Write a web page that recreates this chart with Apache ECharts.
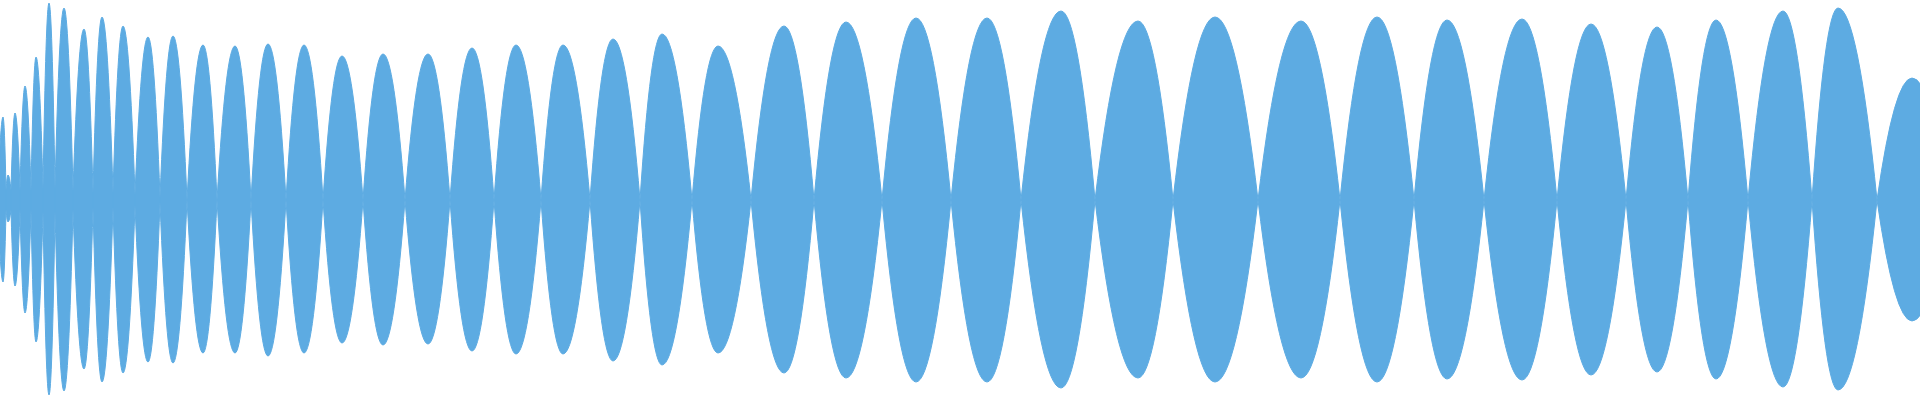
<!DOCTYPE html>
<html>
<head>
<meta charset="utf-8">
<script src="https://cdn.jsdelivr.net/npm/echarts@6/dist/echarts.min.js"></script>
<style>
html,body{margin:0;padding:0;background:#fff;}
#chart{width:1920px;height:400px;}
</style>
</head>
<body>
<div id="chart"></div>
<script>
// Waveform envelope: nodes (where the envelope pinches),
// lobe peaks and their upper / lower amplitudes.
const nodeX = [-1,6,11,20,31,43,55,73,93,113,135,160,187,217,251,286,323,363,405,450,494,
  541,590,640,692,751,814,882,951,1021,1095,1173,1258,1340,1414,1484,1557,1626,1688,1748,1812,1877,1950];
const nodeLevel = [30,10,10,10,10,12,12,10,8,8,6,3,
  0,0,0,0,0,0,0,0,0,0,0,0,0,0,0,0,0,0,0,0,0,0,0,0,0,0,0,0,0,0,0];
const peakX = [3,8,15,25,36,49,64,84,102,123,148,
  173,203,235,268,304,342,383,428,472,516,563,613,662,718,784,846,916,987,1061,
  1138,1215,1301,1377,1447,1522,1591,1657,1716,1783,1838,1912];
const peakTop = [83,25,87,114,143,197,192,171,183,174,163,
  164,155,154,156,155,144,146,146,152,155,155,161,166,154,174,178,182,182,189,
  179,183,179,183,180,181,176,173,180,189,192,122];
const peakBottom = [82,22,86,113,142,195,191,169,182,173,162,
  163,153,153,156,153,143,145,144,151,154,154,161,165,153,173,178,182,182,188,
  178,182,178,182,179,180,175,172,179,187,190,121];

const color = '#5DABE2';

const lobes = peakX.map((px, i) => [
  nodeX[i], px, nodeX[i + 1], peakTop[i], -peakBottom[i], nodeLevel[i], nodeLevel[i + 1]
]);

function renderLobe(params, api) {
  const x0 = api.value(0), xp = api.value(1), x1 = api.value(2);
  const top = api.value(3), bot = api.value(4), b0 = api.value(5), b1 = api.value(6);
  const P = (x, y) => api.coord([x, y]);
  const pts = [
    P(x0, b0), P((x0 + xp) / 2, top), P(xp, top), P((xp + x1) / 2, top), P(x1, b1),
    P(x1, -b1), P((xp + x1) / 2, bot), P(xp, bot), P((x0 + xp) / 2, bot), P(x0, -b0)
  ];
  const f = p => p[0].toFixed(2) + ' ' + p[1].toFixed(2);
  const d = 'M' + f(pts[0]) +
    ' Q' + f(pts[1]) + ' ' + f(pts[2]) +
    ' Q' + f(pts[3]) + ' ' + f(pts[4]) +
    ' L' + f(pts[5]) +
    ' Q' + f(pts[6]) + ' ' + f(pts[7]) +
    ' Q' + f(pts[8]) + ' ' + f(pts[9]) + ' Z';
  return {
    type: 'path',
    shape: {pathData: d},
    style: {fill: color, stroke: color, lineWidth: 1}
  };
}

const chart = echarts.init(document.getElementById('chart'), null, {renderer: 'canvas'});
chart.setOption({
  animation: false,
  grid: {left: 0, right: 0, top: 0, bottom: 0},
  xAxis: {type: 'value', min: 0, max: 1920, show: false},
  yAxis: {type: 'value', min: -200, max: 200, show: false},
  series: [{
    type: 'custom',
    renderItem: renderLobe,
    data: lobes,
    clip: true,
    silent: true,
    encode: {x: [0, 1, 2], y: [3, 4]}
  }]
});
</script>
</body>
</html>
